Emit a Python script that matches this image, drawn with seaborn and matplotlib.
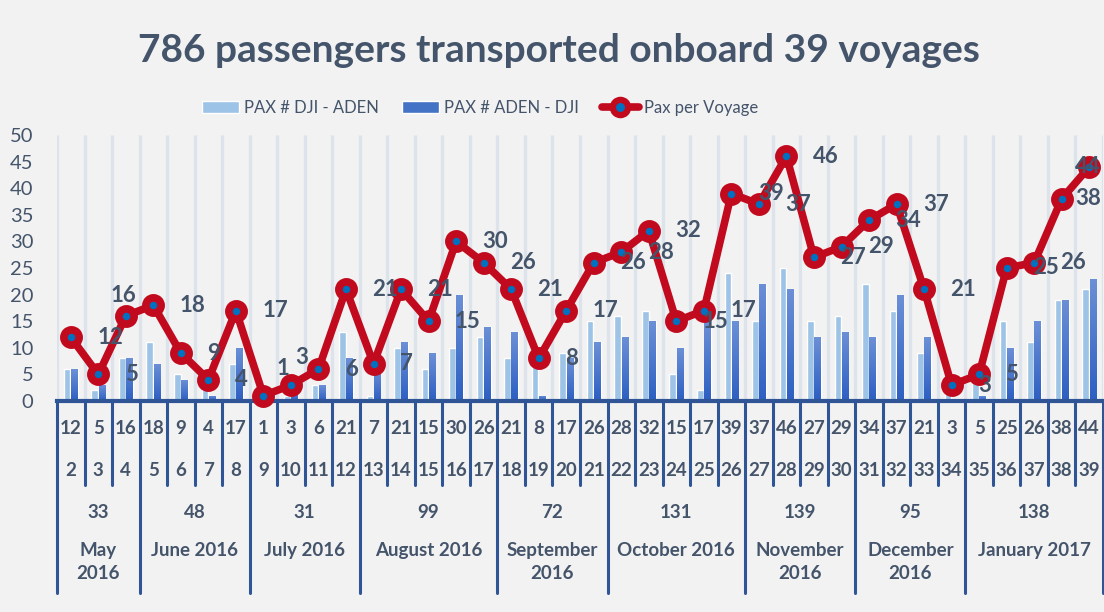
import numpy as np
import pandas as pd
import matplotlib
matplotlib.use("Agg")
import matplotlib.pyplot as plt
from matplotlib.colors import LinearSegmentedColormap
from matplotlib.lines import Line2D
from matplotlib.patches import Patch
from matplotlib.transforms import blended_transform_factory
import seaborn as sns

# data
voyages = [str(v) for v in range(2, 40)]
dji_aden = [6, 2, 8, 11, 5, 3, 7, 1, 1, 3, 13, 1, 10, 6, 10, 12, 8, 7, 9, 15,
            16, 17, 5, 2, 24, 15, 25, 15, 16, 22, 17, 9, 3, 4, 15, 11, 19, 21]
aden_dji = [6, 3, 8, 7, 4, 1, 10, 0, 2, 3, 8, 6, 11, 9, 20, 14, 13, 1, 8, 11,
            12, 15, 10, 15, 15, 22, 21, 12, 13, 12, 20, 12, 0, 1, 10, 15, 19, 23]
pax_per_voyage = [12, 5, 16, 18, 9, 4, 17, 1, 3, 6, 21, 7, 21, 15, 30, 26, 21, 8, 17, 26,
                  28, 32, 15, 17, 39, 37, 46, 27, 29, 34, 37, 21, 3, 5, 25, 26, 38, 44]
months = ["May\n2016", "June 2016", "July 2016", "August 2016", "September\n2016",
          "October 2016", "November\n2016", "December\n2016", "January 2017"]
voyages_per_month = [3, 4, 4, 5, 4, 5, 4, 4, 5]
month_totals = [33, 48, 31, 99, 72, 131, 139, 95, 138]
title = "786 passengers transported onboard 39 voyages"

LIGHT = "#9DC3E6"
DARK = "#4472C4"
RED = "#C20A1E"
DOT = "#0070C0"
TEXT = "#44546A"
AXIS = "#2F5597"
GRID = "#DCE3EB"
BG = "#F2F2F2"

sns.set_style("white", {"axes.facecolor": BG, "figure.facecolor": BG})
plt.rcParams["font.family"] = ["Lato", "DejaVu Sans"]

df = pd.DataFrame({
    "voyage": voyages * 2,
    "pax": dji_aden + aden_dji,
    "dir": ["PAX # DJI - ADEN"] * len(voyages) + ["PAX # ADEN - DJI"] * len(voyages),
})

W, H = 1104, 612
fig = plt.figure(figsize=(W / 100, H / 100), dpi=100)
ax = fig.add_axes([57 / W, (H - 401) / H, (1103 - 57) / W, (401 - 135) / H])
fy = lambda px: 1 - px / H

n = len(voyages)
ax.vlines(np.arange(-0.5, n), 0, 50, color=GRID, lw=2.4, zorder=0)

sns.barplot(data=df, x="voyage", y="pax", hue="dir", order=voyages,
            hue_order=["PAX # DJI - ADEN", "PAX # ADEN - DJI"],
            palette=[LIGHT, DARK], saturation=1, width=0.52, gap=0.08,
            legend=False, ax=ax, zorder=1)

# gradient fill on the dark bars
cmap = LinearSegmentedColormap.from_list("g", ["#2D5FC2", "#6C90D6"])
grad = np.linspace(0, 1, 64).reshape(-1, 1)
for p in ax.containers[1]:
    h = p.get_height()
    if h <= 0:
        continue
    im = ax.imshow(grad, extent=[p.get_x(), p.get_x() + p.get_width(), 0, h],
                   origin="lower", aspect="auto", cmap=cmap, zorder=1.2)
    im.set_clip_path(p)

x = np.arange(n)
sns.lineplot(x=x, y=pax_per_voyage, ax=ax, color=RED, lw=5.5, marker="o",
             ms=11, mfc=DOT, mec=RED, mew=5.5, zorder=5, clip_on=False)

# data labels, mostly to the right of the point
# index -> (dx, dy, ha) in points
special = {2: (-1.5, 14.5, "center"), 7: (14, 19.5, "center"), 8: (8, 19.5, "center"),
           36: (10, 0, "left"), 37: (-1, 0, "center")}
for i, v in enumerate(pax_per_voyage):
    dx, dy, ha = special.get(i, (19, 0, "left"))
    ax.annotate(str(v), (i, v), xytext=(dx, dy), textcoords="offset points",
                ha=ha, va="center", fontsize=16, fontweight="bold",
                color=TEXT, zorder=6, annotation_clip=False)

ax.set_xlim(-0.5, n - 0.5)
ax.set_ylim(0, 50)
ax.set_yticks(range(0, 51, 5))
ax.set_xticks([])
ax.set_xlabel("")
ax.set_ylabel("")
ax.tick_params(axis="y", length=0, labelsize=14.5, labelcolor=TEXT, pad=17)
for s in ["top", "right", "left"]:
    ax.spines[s].set_visible(False)
ax.spines["bottom"].set_color(AXIS)
ax.spines["bottom"].set_linewidth(3)

# category table under the axis
trans = blended_transform_factory(ax.transData, fig.transFigure)
bounds = np.concatenate([[-0.5], np.cumsum(voyages_per_month) - 0.5])
for b in np.arange(-0.5, n):
    bottom = 593 if np.any(np.isclose(bounds, b)) else 485
    ax.add_line(Line2D([b, b], [fy(401), fy(bottom)], transform=trans,
                       color=AXIS, lw=2.2, clip_on=False))
for i in range(n):
    ax.text(i, fy(428), str(pax_per_voyage[i]), transform=trans, ha="center",
            va="center", fontsize=13.5, fontweight="bold", color=TEXT)
    ax.text(i, fy(471), voyages[i], transform=trans, ha="center",
            va="center", fontsize=13.5, fontweight="bold", color=TEXT)
for k in range(len(months)):
    c = (bounds[k] + bounds[k + 1]) / 2
    ax.text(c, fy(512), str(month_totals[k]), transform=trans, ha="center",
            va="center", fontsize=13.5, fontweight="bold", color=TEXT)
    ax.text(c, fy(542), months[k], transform=trans, ha="center", va="top",
            fontsize=13.5, fontweight="bold", color=TEXT, linespacing=1.45)

fig.text(559 / W, fy(50), title, ha="center", va="center", fontsize=28,
         fontweight="bold", color=TEXT)

handles = [Patch(facecolor=LIGHT), Patch(facecolor=DARK),
           Line2D([], [], color=RED, lw=5.5, marker="o", ms=11, mfc=DOT, mec=RED, mew=4.5)]
fig.legend(handles, ["PAX # DJI - ADEN", "PAX # ADEN - DJI", "Pax per Voyage"],
           loc="center", bbox_to_anchor=(480 / W, fy(108)), ncol=3, frameon=False,
           fontsize=12, labelcolor=TEXT, handlelength=2.2, handletextpad=0.3,
           columnspacing=1.4)

fig.savefig("out.png", dpi=100, facecolor=BG)
